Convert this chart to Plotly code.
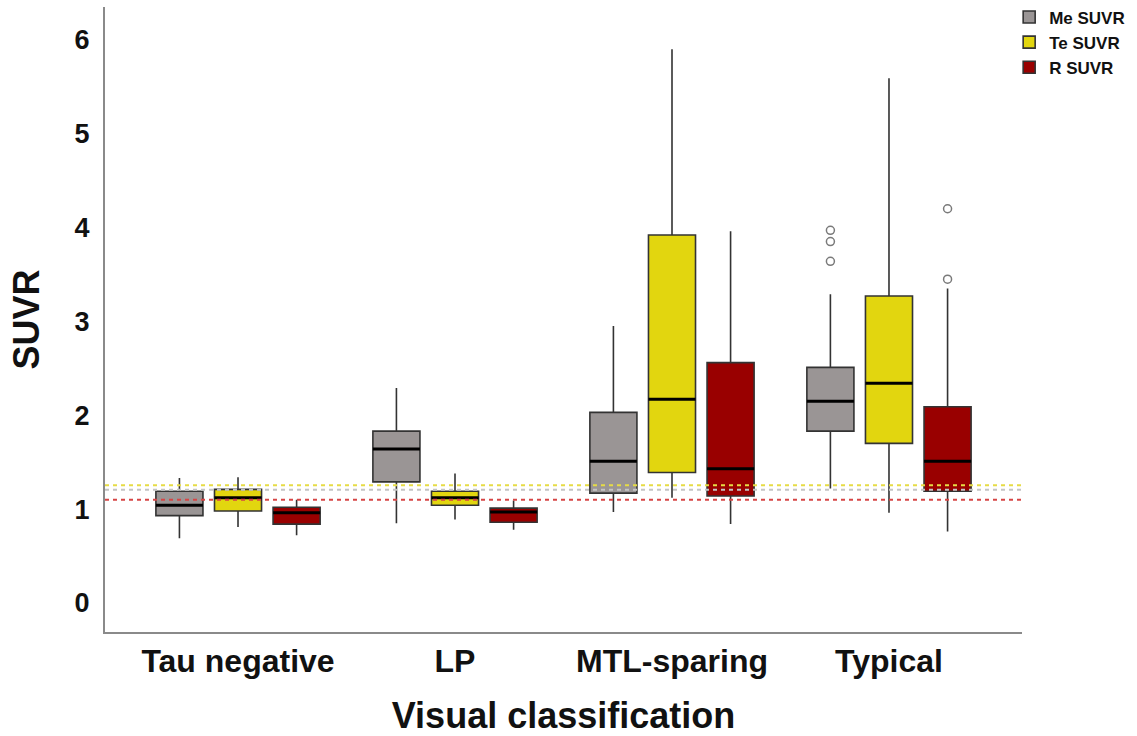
import plotly.graph_objects as go

# ---------------- data ----------------
categories = ["Tau negative", "LP", "MTL-sparing", "Typical"]
series_names = ["Me SUVR", "Te SUVR", "R SUVR"]

me_lo  = [0.69, 0.85, 0.97, 1.22]
me_q1  = [0.93, 1.29, 1.17, 1.83]
me_med = [1.04, 1.64, 1.51, 2.15]
me_q3  = [1.19, 1.83, 2.03, 2.51]
me_hi  = [1.33, 2.29, 2.95, 3.29]

te_lo  = [0.81, 0.89, 1.12, 0.96]
te_q1  = [0.98, 1.04, 1.39, 1.70]
te_med = [1.12, 1.12, 2.17, 2.34]
te_q3  = [1.21, 1.19, 3.92, 3.27]
te_hi  = [1.34, 1.38, 5.90, 5.59]

r_lo  = [0.72, 0.78, 0.84, 0.76]
r_q1  = [0.84, 0.86, 1.14, 1.19]
r_med = [0.96, 0.97, 1.43, 1.51]
r_q3  = [1.02, 1.01, 2.56, 2.09]
r_hi  = [1.10, 1.09, 3.96, 3.35]

# outliers: (category index, value)
me_outliers = [(3, 3.97), (3, 3.85), (3, 3.64)]
te_outliers = []
r_outliers = [(3, 4.20), (3, 3.45)]

# cut-off (dashed) lines
thresholds = {"Te SUVR": 1.255, "Me SUVR": 1.205, "R SUVR": 1.10}

# ---------------- styles ----------------
fill_colors = {"Me SUVR": "#9a9595", "Te SUVR": "#e2d60f", "R SUVR": "#990000"}
dash_colors = {"Me SUVR": "#c4c4c4", "Te SUVR": "#e6dc45", "R SUVR": "#d64545"}
BOXGAP = 0.19
BOXGROUPGAP = 0.197
FONT = "Liberation Sans, Arial, sans-serif"

stats = {
    "Me SUVR": (me_lo, me_q1, me_med, me_q3, me_hi, me_outliers),
    "Te SUVR": (te_lo, te_q1, te_med, te_q3, te_hi, te_outliers),
    "R SUVR": (r_lo, r_q1, r_med, r_q3, r_hi, r_outliers),
}

xpos = list(range(len(categories)))
fig = go.Figure()

for k, name in enumerate(series_names):
    lo, q1, med, q3, hi, outs = stats[name]
    fig.add_trace(go.Box(
        name=name, x=xpos, q1=q1, median=med, q3=q3,
        lowerfence=lo, upperfence=hi,
        offsetgroup=name, fillcolor=fill_colors[name],
        line=dict(color="#333333", width=1.6),
        whiskerwidth=0, boxpoints=False, hoverinfo="skip",
    ))
    # thicker median line drawn as a flat box on top
    fig.add_trace(go.Box(
        name=name, x=xpos, q1=med, median=med, q3=med,
        lowerfence=med, upperfence=med,
        offsetgroup=name, fillcolor="rgba(0,0,0,0)",
        line=dict(color="#000000", width=3),
        whiskerwidth=0, boxpoints=False, showlegend=False, hoverinfo="skip",
    ))

# outliers as open circles at the box offsets
step = (1 - BOXGAP) / len(series_names)
for k, name in enumerate(series_names):
    outs = stats[name][5]
    if not outs:
        continue
    off = (k - (len(series_names) - 1) / 2) * step
    fig.add_trace(go.Scatter(
        x=[c + off for c, _ in outs], y=[v for _, v in outs],
        mode="markers", showlegend=False, hoverinfo="skip",
        marker=dict(symbol="circle-open", size=8, color="#7a7a7a",
                    line=dict(width=1.5, color="#7a7a7a")),
    ))

for name in ["Te SUVR", "Me SUVR", "R SUVR"]:
    fig.add_shape(type="line", xref="paper", yref="y", x0=0, x1=1,
                  y0=thresholds[name], y1=thresholds[name], layer="above",
                  line=dict(color=dash_colors[name], width=2, dash="4px,4px"))

fig.update_layout(
    width=1137, height=736,
    margin=dict(l=105, r=115, t=7, b=104, autoexpand=False),
    paper_bgcolor="white", plot_bgcolor="white",
    boxmode="group", boxgap=BOXGAP, boxgroupgap=BOXGROUPGAP,
    font=dict(family=FONT, color="#111111"),
    legend=dict(x=0.986, y=1.012, xanchor="left", yanchor="top",
                itemwidth=30,
                font=dict(size=17, family=FONT, weight="bold"),
                bgcolor="rgba(0,0,0,0)", tracegroupgap=0),
    xaxis=dict(range=[-0.613, 3.613], tickvals=xpos, ticktext=categories,
               automargin=False,
               showgrid=False, zeroline=False, showline=True,
               linecolor="#8a8a8a", linewidth=2, ticks="",
               ticklabelstandoff=0,
               tickfont=dict(size=32, family=FONT, weight="bold"),
               title=dict(text="Visual classification", standoff=26,
                          font=dict(size=36, family=FONT, weight="bold"))),
    yaxis=dict(range=[-0.31, 6.35], tickvals=[0, 1, 2, 3, 4, 5, 6],
               automargin=False,
               showgrid=False, zeroline=False, showline=True,
               linecolor="#8a8a8a", linewidth=2, ticks="",
               ticklabelstandoff=8,
               tickfont=dict(size=27, family=FONT, weight="bold"),
               title=dict(text="SUVR", standoff=24,
                          font=dict(size=36, family=FONT, weight="bold"))),
)

fig.write_html("out.html", config={"displayModeBar": False},
               post_script="document.body.style.margin='0';document.body.style.padding='0';")
